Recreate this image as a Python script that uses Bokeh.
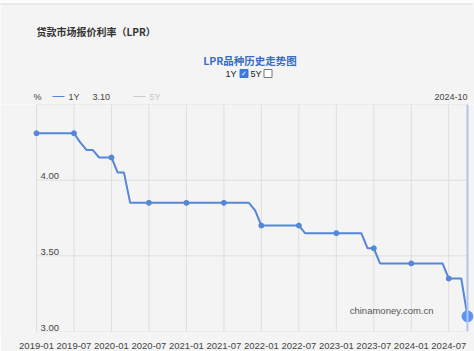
from bokeh.plotting import figure
from bokeh.models import Range1d, FixedTicker, Label, Span, ColumnDataSource
from bokeh.layouts import column
from bokeh.core.properties import value
from bokeh.embed import file_html
from bokeh.resources import INLINE

# ---- data -------------------------------------------------------------
months = [f"{y}-{m:02d}" for y in range(2019, 2025) for m in range(1, 13)][:70]  # 2019-01 .. 2024-10
lpr_1y = [
    4.31, 4.31, 4.31, 4.31, 4.31, 4.31, 4.31,             # 2019-01..07
    4.25, 4.20, 4.20, 4.15, 4.15,                         # 2019-08..12
    4.15, 4.05, 4.05,                                     # 2020-01..03
    3.85, 3.85, 3.85, 3.85, 3.85, 3.85, 3.85, 3.85, 3.85, # 2020-04..12
    3.85, 3.85, 3.85, 3.85, 3.85, 3.85, 3.85, 3.85, 3.85, 3.85, 3.85,  # 2021-01..11
    3.80,                                                 # 2021-12
    3.70, 3.70, 3.70, 3.70, 3.70, 3.70, 3.70,             # 2022-01..07
    3.65, 3.65, 3.65, 3.65, 3.65,                         # 2022-08..12
    3.65, 3.65, 3.65, 3.65, 3.65,                         # 2023-01..05
    3.55, 3.55,                                           # 2023-06..07
    3.45, 3.45, 3.45, 3.45, 3.45,                         # 2023-08..12
    3.45, 3.45, 3.45, 3.45, 3.45, 3.45,                   # 2024-01..06
    3.35, 3.35, 3.35,                                     # 2024-07..09
    3.10,                                                 # 2024-10
]
x_tick_labels = ["2019-01", "2019-07", "2020-01", "2020-07", "2021-01", "2021-07",
                 "2022-01", "2022-07", "2023-01", "2023-07", "2024-01", "2024-07"]
y_ticks = [3.00, 3.50, 4.00]
y_tick_labels = ["3.00", "3.50", "4.00"]
y_grid = [3.00, 3.50, 4.00, 4.50]
current_month = "2024-10"
current_value = "3.10"
page_title = "贷款市场报价利率（LPR）"
chart_title = "LPR品种历史走势图"

# ---- derived ----------------------------------------------------------
idx = list(range(len(months)))
tick_idx = [months.index(t) for t in x_tick_labels]
src = ColumnDataSource(dict(x=idx, y=lpr_1y))
mk = ColumnDataSource(dict(x=tick_idx, y=[lpr_1y[i] for i in tick_idx]))
last = len(months) - 1

W, H = 474, 351
HDR = 104                      # header height (px)
FR = 473                       # right edge of both frames (px)
L, R = 36, 467                 # pixel x of index 0 and of index `last`
B = 332 - HDR                  # chart frame height
Y0, Y1 = 3.0, 4.5


def dx(px):
    return (px - L) * last / (R - L)


BG = "#f4f4f4"
GRID = "#dedede"
BLUE = "#5587d8"
CJK = "Noto Sans CJK SC"
NUM = "Liberation Sans"

# ---- header figure (pixel coordinates, y downward) ---------------------
h = figure(width=W, height=HDR, output_backend="svg", toolbar_location=None,
           x_range=Range1d(0, FR), y_range=Range1d(HDR, 0),
           x_axis_location=None, y_axis_location=None,
           min_border_left=0, min_border_right=W - FR,
           min_border_top=0, min_border_bottom=0)
h.background_fill_color = BG
h.border_fill_color = BG
h.outline_line_color = None
h.grid.visible = False

# page frame edge
h.quad(left=[0], right=[FR], top=[0], bottom=[3], fill_color="white", line_color=None)
h.segment(x0=[0], y0=[3.5], x1=[FR], y1=[3.5], line_color="#dddddd", line_width=1)


def htext(x, y, text, size, color, font=NUM, align="left", style="normal"):
    h.text(x=[x], y=[y], text=[text], text_align=align, text_baseline="middle",
           text_font=value(font), text_font_size=size, text_color=color,
           text_font_style=style)


htext(36, 31, page_title, "10px", "#333333", font=CJK, style="bold")
htext(249.5, 60, chart_title, "10.5px", "#3a6cc4", font=CJK, align="center", style="bold")
htext(236, 73.5, "1Y", "9px", "#222222", align="right")
h.rect(x=[243.5], y=[73], width=8, height=8, fill_color="#3a78dc", line_color="#3a78dc")
htext(243.5, 73.5, "✓", "7px", "white", font="DejaVu Sans", align="center", style="bold")
htext(250, 73.5, "5Y", "9px", "#222222")
h.rect(x=[267.5], y=[73], width=8, height=8, fill_color="white", line_color="#777777")

# legend row
htext(33, 96, "%", "9px", "#444444")
h.segment(x0=[52], y0=[96], x1=[64], y1=[96], line_color=BLUE, line_width=1.2)
htext(68, 96, "1Y", "9px", "#444444")
htext(92, 96, current_value, "9px", "#444444")
h.segment(x0=[133], y0=[96], x1=[145], y1=[96], line_color="#cccccc", line_width=1.2)
htext(149, 96, "5Y", "9px", "#c8c8c8")
htext(467, 96, current_month, "9px", "#444444", align="right")

# ---- chart figure ------------------------------------------------------
px_per_x = (R - L) / last
p = figure(width=W, height=H - HDR, output_backend="svg", toolbar_location=None,
           x_range=Range1d(dx(0), dx(FR)), y_range=Range1d(Y0, Y1),
           y_axis_location=None, min_border_left=0, min_border_right=W - FR,
           min_border_top=0, min_border_bottom=H - HDR - B)
p.background_fill_color = BG
p.border_fill_color = BG
p.outline_line_color = None
p.grid.visible = False

p.xaxis.ticker = FixedTicker(ticks=tick_idx)
p.xaxis.major_label_overrides = {i: months[i] for i in tick_idx}
p.xaxis.axis_line_color = None
p.xaxis.major_tick_line_color = None
p.xaxis.minor_tick_line_color = None
p.xaxis.major_label_standoff = 5
p.xaxis.major_label_text_font = NUM
p.xaxis.major_label_text_font_size = "9.5px"
p.xaxis.major_label_text_color = "#444444"

# grid lines limited to the plotting area (index 0 .. last)
p.segment(x0=[0] * len(y_grid), x1=[last] * len(y_grid), y0=y_grid, y1=y_grid,
          line_color=GRID, line_width=1)
p.segment(x0=tick_idx, x1=tick_idx, y0=[Y0] * len(tick_idx), y1=[Y1] * len(tick_idx),
          line_color=GRID, line_width=1)

# y labels inside the frame
p.text(x=[0] * len(y_ticks), y=y_ticks, text=y_tick_labels, x_offset=4, y_offset=-1,
       text_baseline="bottom", text_align="left", text_font=value(NUM),
       text_font_size="9.5px", text_color="#444444")

# crosshair
p.add_layout(Span(location=last, dimension="height", line_color="#b4c2ee", line_width=2))

p.line("x", "y", source=src, line_color=BLUE, line_width=2)
p.scatter("x", "y", source=mk, size=5, fill_color=BLUE, line_color=BLUE)
p.scatter(x=[last], y=[lpr_1y[-1]], size=11, fill_color="#5b95ee", line_color="#5b95ee")

# watermark
p.add_layout(Label(x=last - 34 / px_per_x, y=Y0 + 21 * (Y1 - Y0) / B, text="chinamoney.com.cn",
                   text_align="right", text_baseline="middle", text_font=NUM,
                   text_font_size="9.5px", text_color="#555555"))

layout = column(h, p, spacing=0)
open("out.html", "w").write(file_html(layout, INLINE))
